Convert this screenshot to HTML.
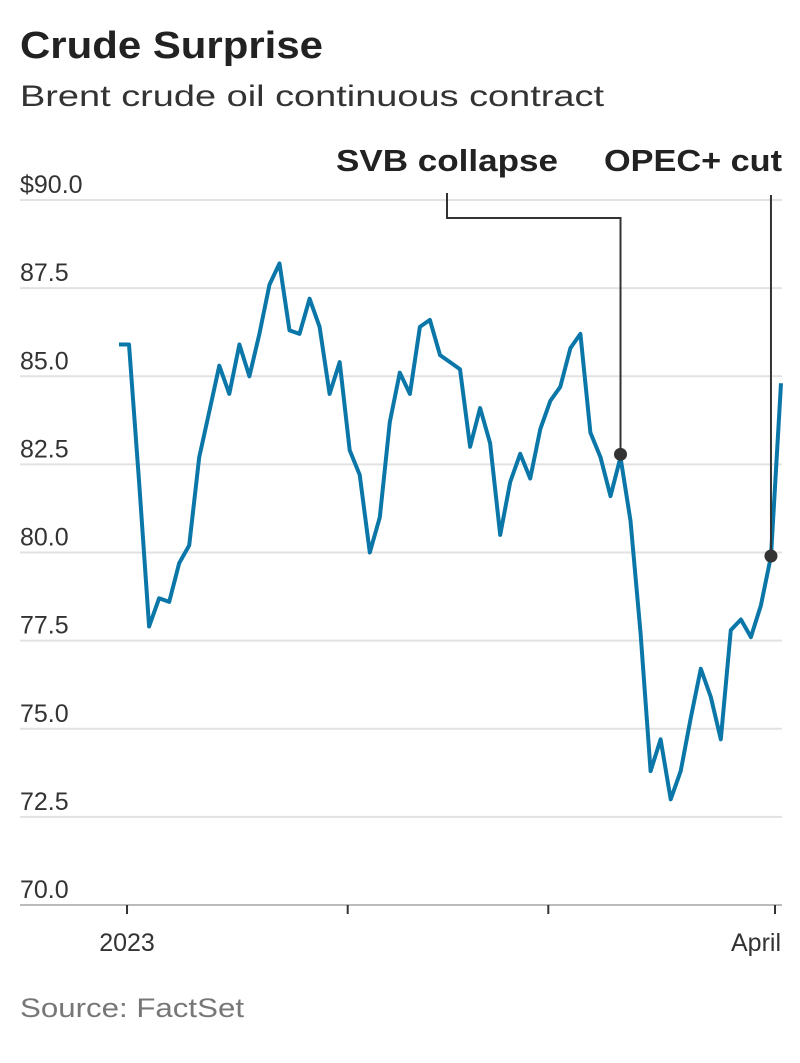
<!DOCTYPE html>
<html><head><meta charset="utf-8"><style>
html,body{margin:0;padding:0;background:#fff;}
svg{display:block;font-family:"Liberation Sans",sans-serif;}
</style></head><body>
<svg id="chart" width="800" height="1063" viewBox="0 0 800 1063">
<text x="20" y="58" font-size="38" font-weight="bold" fill="#222" textLength="303" lengthAdjust="spacingAndGlyphs">Crude Surprise</text>
<text x="20" y="106" font-size="30" fill="#333" textLength="584" lengthAdjust="spacingAndGlyphs">Brent crude oil continuous contract</text>
<g id="grid"></g><g id="ylabels"></g><g id="xaxis"></g>
<path id="line" fill="none" stroke="#0a77a8" stroke-width="4" stroke-linejoin="round"/>
<g id="annot"></g>
<text x="20" y="1017" font-size="27" fill="#777" textLength="224" lengthAdjust="spacingAndGlyphs">Source: FactSet</text>
</svg>
<script>
const prices=[85.9,85.9,82.0,77.9,78.7,78.6,79.7,80.2,82.7,84.0,85.3,84.5,85.9,85.0,86.2,87.6,88.2,86.3,86.2,87.2,86.4,84.5,85.4,82.9,82.2,80.0,81.0,83.7,85.1,84.5,86.4,86.6,85.6,
85.4,85.2,83.0,84.1,83.1,80.5,82.0,82.8,82.1,83.5,84.3,84.7,85.8,86.2,83.4,82.7,81.6,82.7,80.9,77.7,73.8,74.7,73.0,73.8,75.3,76.7,75.9,74.7,77.8,78.1,77.6,78.5,79.9,84.8];
const yTicks=[90,87.5,85,82.5,80,77.5,75,72.5,70];
const yTickLabels=["$90.0","87.5","85.0","82.5","80.0","77.5","75.0","72.5","70.0"];
const xTickIdx=[1,23,43,65];
const xTickLabels=["2023","","","April"];
const annotIdx=[50,65];
const annotLabels=["SVB collapse","OPEC+ cut"];
const NS="http://www.w3.org/2000/svg";
const X0=119,X1=781,Y90=200,Y70=905;
const x=i=>X0+i*(X1-X0)/(prices.length-1);
const y=v=>Y70-(v-70)*(Y70-Y90)/20;
function mk(t,a,p){const e=document.createElementNS(NS,t);for(const k in a)e.setAttribute(k,a[k]);p.appendChild(e);return e;}
const grid=document.getElementById('grid'),yl=document.getElementById('ylabels'),xa=document.getElementById('xaxis'),an=document.getElementById('annot');
yTicks.forEach((v,i)=>{
 const l=mk('line',{x1:20,x2:782,y1:y(v),y2:y(v),stroke:v===70?'#bbb':'#e2e2e2','stroke-width':2},grid);
 
 
 const t=mk('text',{x:20,y:y(v)-7,'font-size':25,fill:'#333'},yl);
 t.textContent=yTickLabels[i];
 
 
});
xTickIdx.forEach((ix,i)=>{
 const tx=ix===prices.length-2?775:x(ix)-2;
 const tk=mk('line',{x1:tx,x2:tx,y1:905,y2:914,stroke:'#333','stroke-width':2},xa);
 
 
 if(xTickLabels[i]){
  const t=mk('text',{x:i===xTickIdx.length-1?781:tx,y:951,'font-size':25,fill:'#333','text-anchor':i===xTickIdx.length-1?'end':'middle'},xa);
  t.textContent=xTickLabels[i];
  
  
 }
});
document.getElementById('line').setAttribute('d',prices.map((v,i)=>(i?'L':'M')+x(i).toFixed(1)+','+y(v).toFixed(1)).join(''));
// SVB annotation
{const i=annotIdx[0],px=x(i),py=y(prices[i]);
 const p=mk('path',{d:`M447,193V218H${px}V${py}`,fill:'none',stroke:'#333','stroke-width':2},an);
 
 const c=mk('circle',{cx:px,cy:py-3,r:6.5,fill:'#333'},an);
 
 const t=mk('text',{x:336,y:171,'font-size':31,'font-weight':'bold',fill:'#222',textLength:222,lengthAdjust:'spacingAndGlyphs'},an);
 t.textContent=annotLabels[0];
 }
{const i=annotIdx[1],px=x(i),py=y(prices[i]);
 const p=mk('path',{d:`M${px},195V${py}`,fill:'none',stroke:'#333','stroke-width':2},an);
 
 const c=mk('circle',{cx:px,cy:py,r:6.5,fill:'#333'},an);
 
 const t=mk('text',{x:604,y:171,'font-size':31,'font-weight':'bold',fill:'#222',textLength:178,lengthAdjust:'spacingAndGlyphs'},an);
 t.textContent=annotLabels[1];
 }
</script>
</body></html>
